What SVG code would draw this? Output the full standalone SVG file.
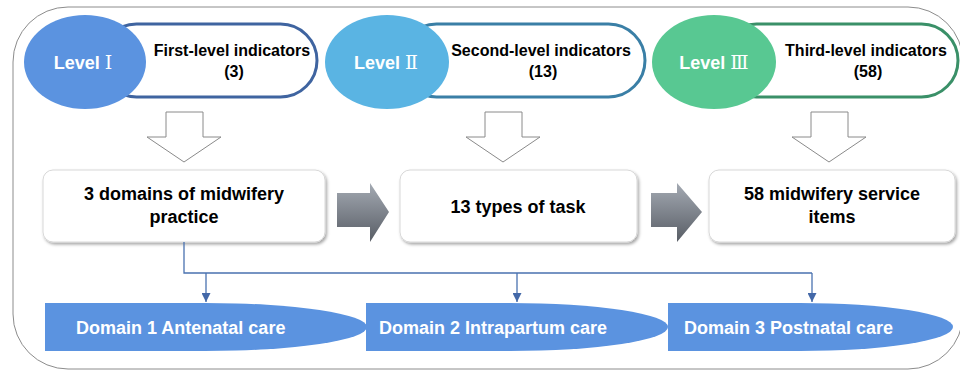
<svg xmlns="http://www.w3.org/2000/svg" width="960" height="371" viewBox="0 0 960 371">
<defs>
<linearGradient id="gArrow" x1="0" y1="0" x2="0" y2="1">
<stop offset="0" stop-color="#a4aab3"/>
<stop offset="1" stop-color="#585d65"/>
</linearGradient>
<filter id="shadow" x="-10%" y="-20%" width="125%" height="150%">
<feDropShadow dx="1.5" dy="2" stdDeviation="1.5" flood-color="#000" flood-opacity="0.35"/>
</filter>
<marker id="arr" viewBox="0 0 10 10" refX="10" refY="5" markerWidth="9" markerHeight="9" markerUnits="userSpaceOnUse" orient="auto">
<path d="M0,0 L10,5 L0,10 Z" fill="#4368a8"/>
</marker>
<style>
.hdr{font-family:"Liberation Sans",Arial,sans-serif;font-weight:bold;font-size:16px;fill:#000;text-anchor:middle}
.lvl{font-family:"Liberation Sans",Arial,sans-serif;font-weight:bold;font-size:18px;fill:#fff;text-anchor:middle}
.num{font-family:"DejaVu Serif","Noto Sans CJK SC",serif;font-weight:normal;font-size:19px}
.box{fill:#fff;stroke:#d8d8d8;stroke-width:1;filter:url(#shadow)}
.btx{font-family:"Liberation Sans",Arial,sans-serif;font-weight:bold;font-size:18px;fill:#000;text-anchor:middle}
.hol{fill:#fff;stroke:#8a8a8a;stroke-width:1}
.dom{fill:#5b93e0}
.dtx{font-family:"Liberation Sans",Arial,sans-serif;font-weight:bold;font-size:18px;fill:#fff}
.con{fill:none;stroke:#4a72b0;stroke-width:1.3}
</style>
</defs>
<rect x="13" y="7" width="950" height="362" rx="55" ry="55" fill="#fff" stroke="#8c8c8c" stroke-width="1"/>

<g id="level1">
<rect x="100" y="24" width="217" height="73" rx="36.5" fill="#fff" stroke="#3f64a0" stroke-width="3"/>
<ellipse cx="85" cy="62" rx="61" ry="47" fill="#5b93e0"/>
<text class="lvl" x="83" y="69">Level <tspan class="num">Ⅰ</tspan></text>
<text class="hdr" x="232" y="56">First-level indicators</text>
<text class="hdr" x="234" y="77">(3)</text>
</g>
<g id="level2">
<rect x="400" y="24" width="245" height="73" rx="36.5" fill="#fff" stroke="#3a7fa6" stroke-width="3"/>
<ellipse cx="387" cy="62" rx="62" ry="47" fill="#5ab4e3"/>
<text class="lvl" x="386" y="69">Level <tspan class="num">Ⅱ</tspan></text>
<text class="hdr" x="541" y="56">Second-level indicators</text>
<text class="hdr" x="543" y="77">(13)</text>
</g>
<g id="level3">
<rect x="720" y="24" width="238" height="73" rx="36.5" fill="#fff" stroke="#3a9068" stroke-width="3"/>
<ellipse cx="714" cy="62" rx="62" ry="47" fill="#58c892"/>
<text class="lvl" x="714" y="69">Level <tspan class="num">Ⅲ</tspan></text>
<text class="hdr" x="866" y="56">Third-level indicators</text>
<text class="hdr" x="868" y="77">(58)</text>
</g>

<g id="downArrows">
<path class="hol" d="M166,112 H203 V137 H221 L184,162 L147,137 H166 Z"/>
<path class="hol" d="M485,112 H522 V137 H540 L503,162 L466,137 H485 Z"/>
<path class="hol" d="M811,112 H848 V137 H866 L829,162 L792,137 H811 Z"/>
</g>

<g id="box1">
<rect class="box" x="43" y="170" width="282" height="72" rx="10"/>
<text class="btx" x="184" y="200">3 domains of midwifery</text>
<text class="btx" x="184" y="223">practice</text>
</g>
<g id="box2">
<rect class="box" x="400" y="170" width="237" height="72" rx="10"/>
<text class="btx" x="518" y="213">13 types of task</text>
</g>
<g id="box3">
<rect class="box" x="709" y="170" width="246" height="72" rx="10"/>
<text class="btx" x="832" y="200">58 midwifery service</text>
<text class="btx" x="832" y="223">items</text>
</g>

<g id="blockArrows">
<path d="M337,193 H370 V183 L389,212 L370,242 V227 H337 Z" fill="url(#gArrow)"/>
<path d="M651,193 H677 V183 L702,212 L677,242 V227 H651 Z" fill="url(#gArrow)"/>
</g>

<g id="connectors">
<path class="con" d="M184,242 V273 H812"/>
<path class="con" d="M206,273 V302" marker-end="url(#arr)"/>
<path class="con" d="M517,273 V302" marker-end="url(#arr)"/>
<path class="con" d="M812,273 V302" marker-end="url(#arr)"/>
</g>

<g id="domain1">
<path class="dom" d="M45,303 H205 A162,24 0 0 1 205,351 H45 Z"/>
<text class="dtx" x="76" y="334">Domain 1 Antenatal care</text>
</g>
<g id="domain2">
<path class="dom" d="M366,303 H510 A158,24 0 0 1 510,351 H366 Z"/>
<text class="dtx" x="379" y="334">Domain 2 Intrapartum care</text>
</g>
<g id="domain3">
<path class="dom" d="M668,303 H800 A153,24 0 0 1 800,351 H668 Z"/>
<text class="dtx" x="684" y="334">Domain 3 Postnatal care</text>
</g>
</svg>
